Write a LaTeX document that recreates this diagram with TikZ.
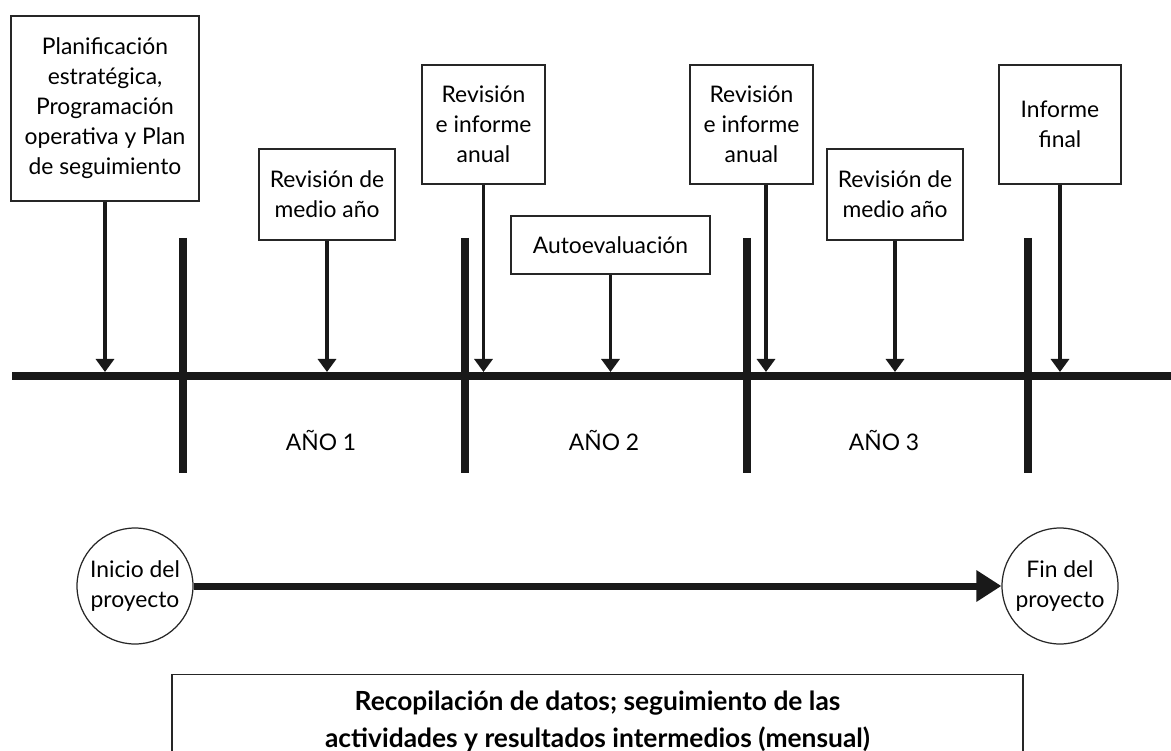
\documentclass[tikz,border=0pt]{standalone}
\usepackage{fontspec}
\setmainfont{Lato}
\usepackage{tikz}
\usetikzlibrary{
    arrows.meta
}

\begin{document}
\begin{tikzpicture}[
    font=\fontsize{13}{17.07}\selectfont,
    caja/.style={draw=black!85, line width=0.6pt, align=center, inner sep=0pt},
    hito/.style={draw=black!85, line width=0.7pt, circle, minimum size=2.32cm, inner sep=0pt, align=center},
    flecha/.style={draw=black!90, line width=2.2pt, -{Triangle[length=0.26cm, width=0.36cm]}},
    eje/.style={draw=black!90, line width=0.16cm}
]
                        \useasboundingbox (0, 0) rectangle (23.42, -15.02);

                        % linea de tiempo
                        \draw[eje] (0.24, -7.52) -- (23.6, -7.52);
                        \foreach \x in {3.66, 9.30, 14.94, 20.56} {
                            \draw[eje] (\x, -4.76) -- (\x, -9.46);
                        }
                        \coordinate (linea) at (0, -7.44);

                        \node[caja, minimum width=3.76cm, minimum height=3.70cm] (plan) at (2.10, -2.17)
                        {Planificación\\estratégica,\\Programación\\operativa y Plan\\de seguimiento};
                        \node[caja, minimum width=2.72cm, minimum height=1.82cm] (medio1) at (6.54, -3.89)
                        {Revisión de\\medio año};
                        \node[caja, minimum width=2.46cm, minimum height=2.38cm] (anual1) at (9.67, -2.49)
                        {Revisión\\e informe\\anual};
                        \node[caja, minimum width=3.98cm, minimum height=1.16cm] (auto) at (12.21, -4.90)
                        {Autoevaluación};
                        \node[caja, minimum width=2.46cm, minimum height=2.38cm] (anual2) at (15.03, -2.49)
                        {Revisión\\e informe\\anual};
                        \node[caja, minimum width=2.72cm, minimum height=1.82cm] (medio2) at (17.90, -3.89)
                        {Revisión de\\medio año};
                        \node[caja, minimum width=2.44cm, minimum height=2.38cm] (final) at (21.20, -2.49)
                        {Informe\\final};
                        \coordinate (anual2pie) at ([xshift=0.29cm]anual2.south);

                        \draw[flecha] (plan) -- (plan.south |- linea);
                        \draw[flecha] (medio1) -- (medio1.south |- linea);
                        \draw[flecha] (anual1) -- (anual1.south |- linea);
                        \draw[flecha] (auto) -- (auto.south |- linea);
                        \draw[flecha] (anual2pie) -- (anual2pie |- linea);
                        \draw[flecha] (medio2) -- (medio2.south |- linea);
                        \draw[flecha] (final) -- (final.south |- linea);

                        \node (ano1) at (6.42, -8.80) {AÑO 1};
                        \node (ano2) at (12.08, -8.80) {AÑO 2};
                        \node (ano3) at (17.68, -8.80) {AÑO 3};

                        \node[hito] (inicio) at (2.70, -11.72) {Inicio del\\proyecto};
                        \node[hito] (fin) at (21.20, -11.72) {Fin del\\proyecto};
                        \draw[draw=black!90, line width=0.14cm, -{Triangle[length=0.5cm, width=0.6cm]}] (inicio) -- (fin);

                        \node[draw=black!85, line width=0.6pt, anchor=north, minimum width=17.02cm,
                            inner ysep=0.33cm, align=center, font=\fontsize{15}{21}\selectfont\bfseries] (datos)
                            at (11.95, -13.48)
                        {Recopilación de datos; seguimiento de las\\actividades y resultados intermedios (mensual)};
                    \end{tikzpicture}
\end{document}
